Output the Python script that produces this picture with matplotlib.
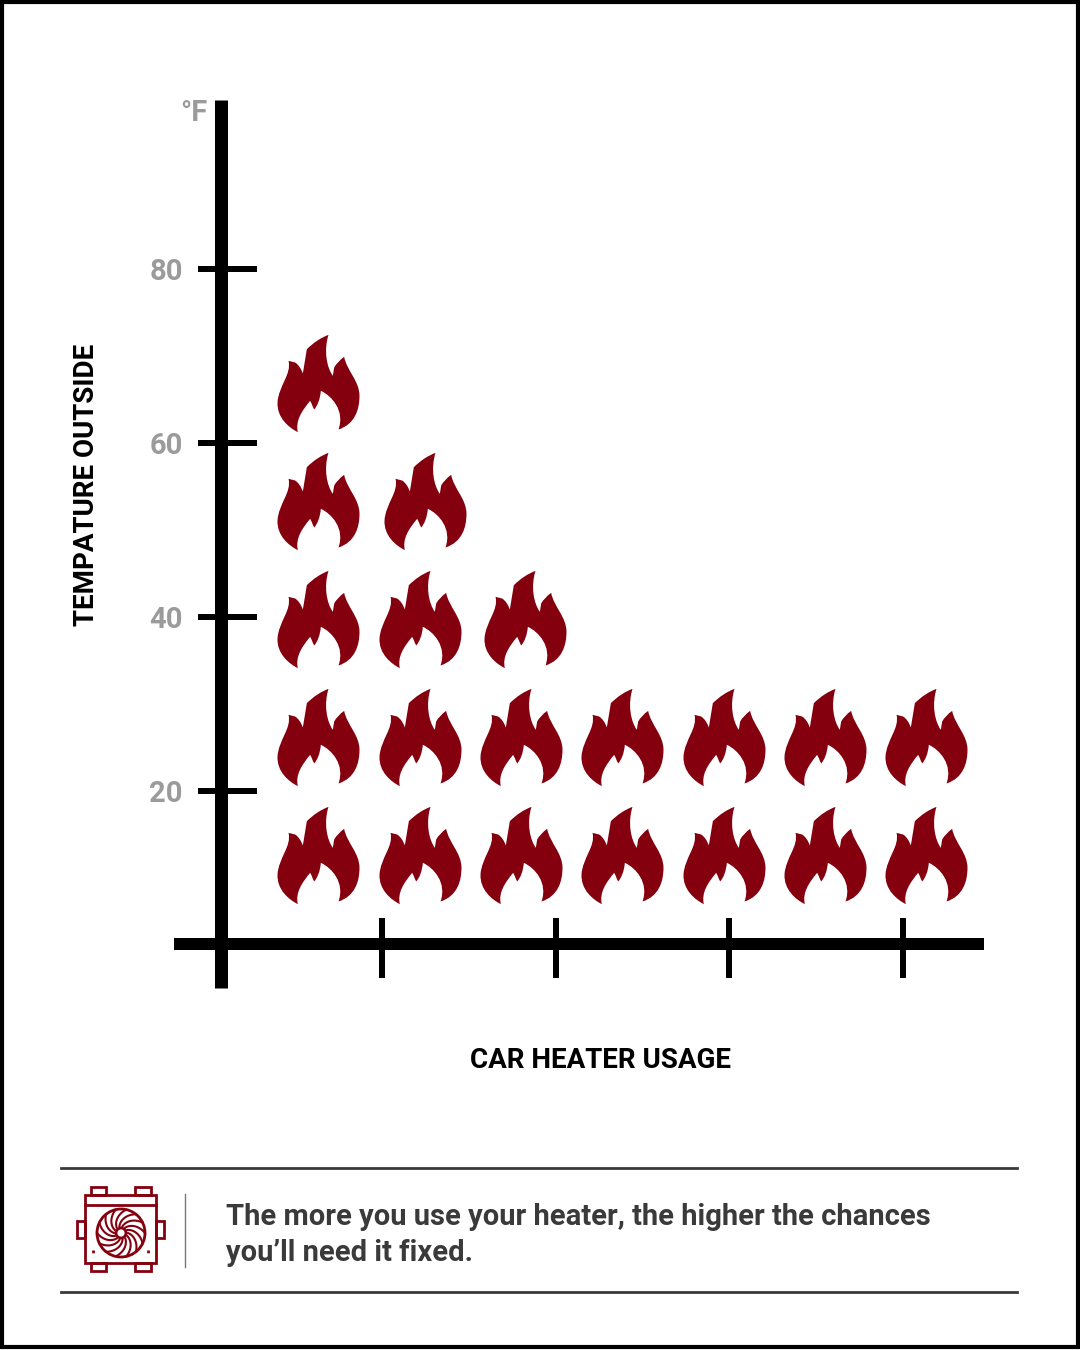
import numpy as np
import matplotlib
matplotlib.use('Agg')
import matplotlib.pyplot as plt
from matplotlib.path import Path
from matplotlib.patches import Rectangle, Circle, PathPatch

# flames: one list of usage positions per temperature row
row_temps = [66.9, 53.3, 39.8, 26.2, 12.6]
row_usage = [
    [0.632],
    [0.632, 1.248],
    [0.632, 1.219, 1.823],
    [0.632, 1.219, 1.80, 2.383, 2.968, 3.552, 4.133],
    [0.632, 1.219, 1.80, 2.383, 2.968, 3.552, 4.133],
]
y_ticks = [20, 40, 60, 80]
x_ticks = [1, 2, 3, 4]

RED = '#85000f'
GREY = '#9b9b9b'
DARK = '#3a3a3a'
FONT = 'Roboto'

W, H = 1080, 1350
plt.rcParams['font.family'] = [FONT, 'DejaVu Sans']
fig = plt.figure(figsize=(W / 100, H / 100), dpi=100)

# pixel position of data zero and size of one unit
X0, XU = 208.3, 173.7
Y0, YU = 965.0, 8.7
L, R, T, B = 174, 984, 100, 988

ax = fig.add_axes([L / W, 1 - B / H, (R - L) / W, (B - T) / H])
ax.set_xlim((L - X0) / XU, (R - X0) / XU)
ax.set_ylim((Y0 - B) / YU, (Y0 - T) / YU)
ax.patch.set_alpha(0)

for s in ['top', 'right']:
    ax.spines[s].set_visible(False)
ax.spines['left'].set_position(('data', (220.5 - X0) / XU))
ax.spines['bottom'].set_position(('data', (Y0 - 944) / YU))
ax.spines['left'].set_linewidth(13 * 0.72)
ax.spines['bottom'].set_linewidth(12 * 0.72)
for s in ['left', 'bottom']:
    ax.spines[s].set_capstyle('butt')

ax.set_xticks(x_ticks)
ax.set_xticklabels([])
ax.set_yticks(y_ticks)
ax.set_yticklabels([str(v) for v in y_ticks], color=GREY, fontsize=21, fontweight='bold')
ax.tick_params(axis='both', length=0)
ax.tick_params(axis='y', pad=(220.5 - 183) * 0.72)

# ticks are off centre on the axis lines, so draw them by hand
ax.hlines(y_ticks, (198 - X0) / XU, (257 - X0) / XU, color='black', lw=6 * 0.72)
ax.vlines(x_ticks, (Y0 - 978) / YU, (Y0 - 918) / YU, color='black', lw=6 * 0.72)

# flame outline
flame_pts = [
    (205, 42), (170, 55), (140, 85), (128, 158), (120, 135), (105, 125), (85, 120),
    (95, 160), (55, 195), (52, 245), (50, 290), (85, 320), (113, 334),
    (105, 300), (125, 270), (150, 240), (155, 250), (158, 258), (162, 266),
    (172, 255), (180, 235), (182, 210), (215, 225), (255, 270), (235, 326),
    (285, 310), (298, 265), (298, 225), (298, 180), (260, 150), (252, 108),
    (232, 122), (222, 140), (218, 165), (200, 140), (190, 90), (205, 42),
]
flame_codes = [Path.MOVETO, Path.CURVE3, Path.CURVE3, Path.LINETO, Path.CURVE3, Path.CURVE3, Path.LINETO,
               Path.CURVE4, Path.CURVE4, Path.CURVE4, Path.CURVE4, Path.CURVE4, Path.CURVE4,
               Path.CURVE4, Path.CURVE4, Path.CURVE4, Path.LINETO, Path.LINETO, Path.LINETO,
               Path.CURVE4, Path.CURVE4, Path.CURVE4, Path.CURVE4, Path.CURVE4, Path.CURVE4,
               Path.CURVE4, Path.CURVE4, Path.CURVE4, Path.CURVE4, Path.CURVE4, Path.CURVE4,
               Path.CURVE3, Path.CURVE3, Path.LINETO, Path.CURVE4, Path.CURVE4, Path.CURVE4]
v = np.array(flame_pts, dtype=float)
v[:, 0] -= 175
v[:, 1] = 188 - v[:, 1]
flame = Path(v, flame_codes)
flame_size = (97.3 * 0.72) ** 2

for temp, usage in zip(row_temps, row_usage):
    ax.scatter(usage, [temp] * len(usage), marker=flame, s=flame_size, color=RED, linewidths=0, zorder=3)

# labels, footer and frame in pixel coordinates
ov = fig.add_axes([0, 0, 1, 1])
ov.set_xlim(0, W)
ov.set_ylim(H, 0)
ov.axis('off')
ov.patch.set_alpha(0)

ov.text(207, 113, '°F', color=GREY, fontsize=21, fontweight='bold', ha='right', va='center')
ov.text(87, 485, 'TEMPATURE OUTSIDE', rotation=90, color='black', fontsize=20, fontweight='bold',
        ha='center', va='center')
ov.text(600, 1061, 'CAR HEATER USAGE', color='black', fontsize=20, fontweight='bold', ha='center', va='center')

ov.plot([61, 1017], [1168, 1168], color=DARK, lw=2)
ov.plot([61, 1017], [1292, 1292], color=DARK, lw=2)
ov.plot([185, 185], [1194, 1267], color='#777777', lw=1)
ov.text(226, 1225, 'The more you use your heater, the higher the chances', color=DARK,
        fontsize=21, fontweight='bold', va='baseline')
ov.text(226, 1261, 'you\u2019ll need it fixed.', color=DARK, fontsize=21, fontweight='bold', va='baseline')

# radiator icon
ilw = 2.0
for x, y, w, h in [(85, 1195, 71, 68), (91, 1187, 15, 8), (135, 1187, 16, 8), (91, 1263, 15, 8),
                   (135, 1263, 16, 8), (77, 1221, 8, 17), (156, 1221, 8, 17)]:
    ov.add_patch(Rectangle((x, y), w, h, fill=False, ec=RED, lw=ilw))
ov.plot([85, 156], [1205, 1205], color=RED, lw=ilw)
ov.add_patch(Circle((121, 1233), 24, fill=False, ec=RED, lw=ilw))
ov.add_patch(Circle((121, 1233), 5, fill=False, ec=RED, lw=ilw))
for a in np.linspace(0, 2 * np.pi, 14, endpoint=False):
    t = np.linspace(0, 1, 12)
    r = 7 + 17 * t
    ang = a + 0.9 * t
    ov.plot(121 + r * np.cos(ang), 1233 + r * np.sin(ang), color=RED, lw=1.5)
for x in [93, 148]:
    ov.plot([x, x], [1250, 1257], color=RED, lw=2, ls=(0, (1, 1.5)))

# black border
ov.add_patch(Rectangle((1.5, 1.5), W - 3.5, H - 4.5, fill=False, ec='black', lw=3))

fig.savefig('out.png', dpi=100, facecolor='white')
